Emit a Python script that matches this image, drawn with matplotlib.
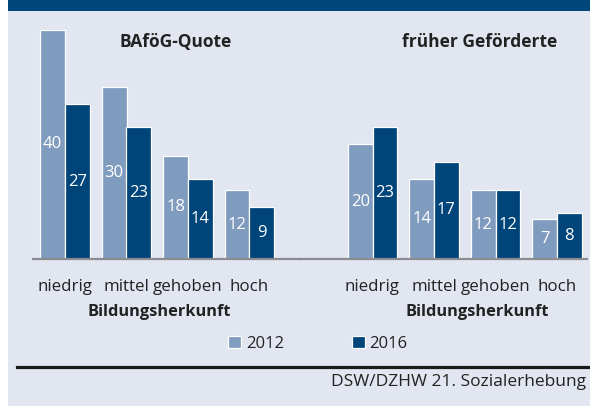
import matplotlib

matplotlib.use("Agg")
import matplotlib.pyplot as plt
from matplotlib.patches import Rectangle
from matplotlib.lines import Line2D

plt.rcParams["font.family"] = ["Open Sans", "DejaVu Sans"]

W, H = 590, 407
BG = "#e1e6f0"
BAND = "#00467a"
C2012 = "#7f9cbf"
C2016 = "#00457a"
TXT = "#222222"

categories = ["niedrig", "mittel", "gehoben", "hoch"]
years = ["2012", "2016"]
quote_2012 = [40, 30, 18, 12]
quote_2016 = [27, 23, 14, 9]
former_2012 = [20, 14, 12, 7]
former_2016 = [23, 17, 12, 8]
panel_titles = ["BAföG-Quote", "früher Geförderte"]
axis_label = "Bildungsherkunft"
source = "DSW/DZHW 21. Sozialerhebung"


def fx(px):
    return px / W


def fy(py):
    return 1 - py / H


fig = plt.figure(figsize=(W / 100, H / 100), dpi=100)
fig.patch.set_facecolor("white")
fig.add_artist(Rectangle((fx(8), fy(406)), fx(582), 405 / H, transform=fig.transFigure,
                         facecolor=BG, edgecolor="none", zorder=0))
fig.add_artist(Rectangle((fx(8), fy(11)), fx(582), 11 / H, transform=fig.transFigure,
                         facecolor=BAND, edgecolor="none", zorder=0))

SPACING = 61.5  # px between group centres
BASE_Y, TOP_Y = 259, 20
YMAX = (BASE_Y - TOP_Y) / 5.73
width = 0.4


def draw_panel(left_px, right_px, first_center_px, v12, v16, title, title_x):
    ax = fig.add_axes([fx(left_px), fy(BASE_Y), fx(right_px - left_px), (BASE_Y - TOP_Y) / H])
    ax.set_facecolor("none")
    x = list(range(len(categories)))
    b1 = ax.bar([i - width / 2 for i in x], v12, width, color=C2012, edgecolor="white", linewidth=0.9)
    b2 = ax.bar([i + width / 2 for i in x], v16, width, color=C2016, edgecolor="white", linewidth=0.9)
    for bars, vals in ((b1, v12), (b2, v16)):
        for rect, v in zip(bars, vals):
            ax.text(rect.get_x() + rect.get_width() / 2, v / 2, str(v), ha="center", va="center",
                    color="white", fontsize=12)
    ax.set_xlim((left_px - first_center_px) / SPACING, (right_px - first_center_px) / SPACING)
    ax.set_ylim(0, YMAX)
    ax.set_xticks(x)
    ax.set_xticklabels(categories, fontsize=12.2, color=TXT)
    ax.tick_params(axis="x", length=0, pad=14.5)
    ax.set_yticks([])
    for s in ("top", "left", "right"):
        ax.spines[s].set_visible(False)
    ax.spines["bottom"].set_color("#8c8c90")
    ax.spines["bottom"].set_linewidth(1.6)
    fig.text(fx(title_x), fy(42), title, ha="center", va="center", fontsize=12.5,
             fontweight="bold", color=TXT)
    return b1, b2


h1, h2 = draw_panel(33, 300, 65, quote_2012, quote_2016, panel_titles[0], 176)
draw_panel(300, 587, 372.5, former_2012, former_2016, panel_titles[1], 480)

fig.text(fx(159), fy(312), axis_label, ha="center", va="center", fontsize=11.8,
         fontweight="bold", color=TXT)
fig.text(fx(477), fy(312), axis_label, ha="center", va="center", fontsize=11.8,
         fontweight="bold", color=TXT)

fig.legend([h1, h2], years, loc="center", bbox_to_anchor=(fx(318), fy(344)), ncol=2,
           frameon=False, fontsize=12, handlelength=0.75, handleheight=0.75,
           handletextpad=0.3, columnspacing=4.1, labelcolor=TXT)

fig.add_artist(Line2D([fx(17), fx(590)], [fy(367), fy(367)], transform=fig.transFigure,
                      color="#1a1a1a", linewidth=2.3))
fig.text(fx(586), fy(382), source, ha="right", va="center", fontsize=12.5, color=TXT)

fig.savefig("out.png", dpi=100, facecolor=fig.get_facecolor())
